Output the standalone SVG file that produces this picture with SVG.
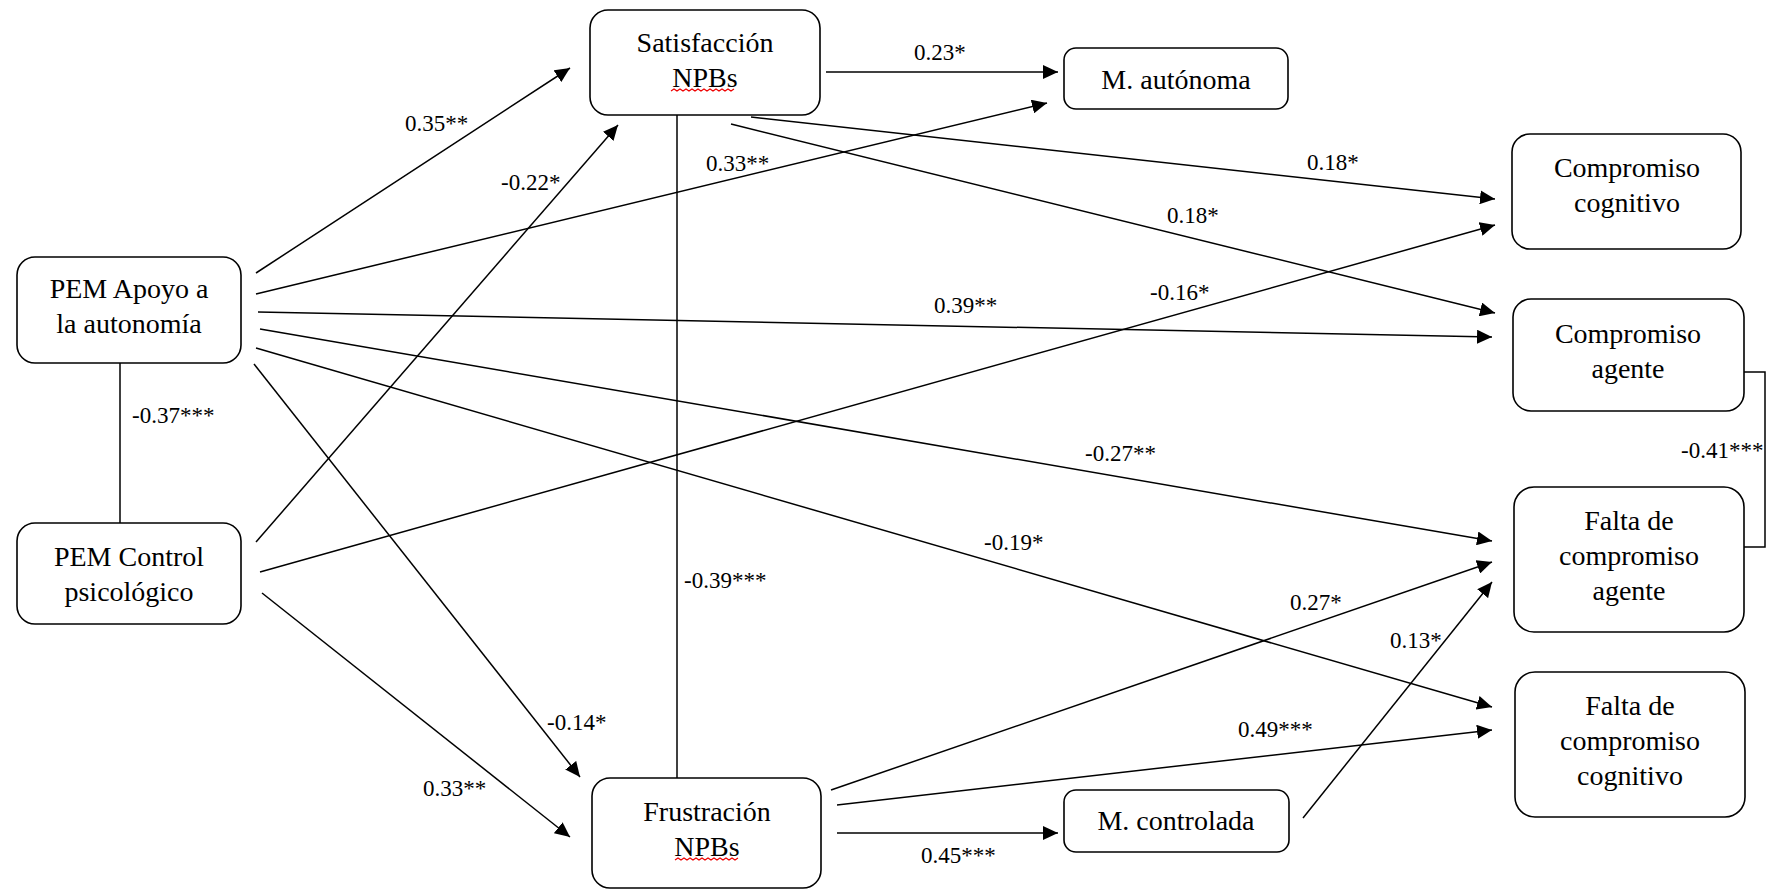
<svg xmlns="http://www.w3.org/2000/svg" width="1767" height="889" viewBox="0 0 1767 889">
<defs>
<marker id="ah" markerUnits="userSpaceOnUse" markerWidth="16" markerHeight="14" refX="15" refY="7" orient="auto" viewBox="0 0 16 14">
<path d="M0,0 L15,7 L0,14 z" fill="#000"/>
</marker>
</defs>
<style>
.box{fill:#fff;stroke:#000;stroke-width:1.6}
.nt{font-family:"Times New Roman","Liberation Serif","DejaVu Serif",Times,serif;font-size:28px;fill:#000;text-anchor:middle}
.lb{font-family:"Times New Roman","Liberation Serif","DejaVu Serif",Times,serif;font-size:23px;fill:#000}
.ar{stroke:#000;stroke-width:1.5;fill:none;marker-end:url(#ah)}
.ln{stroke:#000;stroke-width:1.5;fill:none}
.sp{stroke:#e00;stroke-width:1.2;fill:none}
</style>
<rect width="1767" height="889" fill="#fff"/>
<g id="connectors">
<line class="ar" x1="256" y1="273" x2="570" y2="68"/>
<line class="ar" x1="256" y1="294" x2="1047" y2="103"/>
<line class="ar" x1="258" y1="312" x2="1492" y2="337"/>
<line class="ar" x1="260" y1="329" x2="1492" y2="541"/>
<line class="ar" x1="256" y1="348" x2="1492" y2="707"/>
<line class="ar" x1="254" y1="364" x2="580" y2="777"/>
<line class="ar" x1="256" y1="542" x2="618" y2="125"/>
<line class="ar" x1="260" y1="572" x2="1495" y2="225"/>
<line class="ar" x1="262" y1="593" x2="570" y2="837"/>
<line class="ar" x1="826" y1="72" x2="1058" y2="72"/>
<line class="ar" x1="751" y1="117" x2="1495" y2="199"/>
<line class="ar" x1="731" y1="124" x2="1495" y2="313"/>
<line class="ar" x1="831" y1="790" x2="1492" y2="562"/>
<line class="ar" x1="837" y1="805" x2="1492" y2="730"/>
<line class="ar" x1="837" y1="833" x2="1058" y2="833"/>
<line class="ar" x1="1303" y1="818" x2="1492" y2="582"/>
<line class="ln" x1="120" y1="363" x2="120" y2="523"/>
<line class="ln" x1="677" y1="115" x2="677" y2="778"/>
<polyline class="ln" points="1744,372 1765,372 1765,547 1744,547"/>
<g id="labels">
<text class="lb" x="405" y="131">0.35**</text>
<text class="lb" x="501" y="190">-0.22*</text>
<text class="lb" x="706" y="171">0.33**</text>
<text class="lb" x="914" y="60">0.23*</text>
<text class="lb" x="1307" y="170">0.18*</text>
<text class="lb" x="1167" y="223">0.18*</text>
<text class="lb" x="1150" y="300">-0.16*</text>
<text class="lb" x="934" y="313">0.39**</text>
<text class="lb" x="1085" y="461">-0.27**</text>
<text class="lb" x="984" y="550">-0.19*</text>
<text class="lb" x="684" y="588">-0.39***</text>
<text class="lb" x="132" y="423">-0.37***</text>
<text class="lb" x="1681" y="458">-0.41***</text>
<text class="lb" x="1290" y="610">0.27*</text>
<text class="lb" x="1390" y="648">0.13*</text>
<text class="lb" x="1238" y="737">0.49***</text>
<text class="lb" x="547" y="730">-0.14*</text>
<text class="lb" x="423" y="796">0.33**</text>
<text class="lb" x="921" y="863">0.45***</text>
</g>
</g>
<g id="apoyo">
<rect class="box" x="17" y="257" width="224" height="106" rx="18"/>
<text class="nt" x="129" y="298">PEM Apoyo a</text>
<text class="nt" x="129" y="333">la autonomía</text>
</g>
<g id="control">
<rect class="box" x="17" y="523" width="224" height="101" rx="18"/>
<text class="nt" x="129" y="566">PEM Control</text>
<text class="nt" x="129" y="601">psicológico</text>
</g>
<g id="satisfaccion">
<rect class="box" x="590" y="10" width="230" height="105" rx="18"/>
<text class="nt" x="705" y="52">Satisfacción</text>
<text class="nt" x="705" y="87">NPBs</text>
<path class="sp" d="M671,91 l3,-2 l3,2 l3,-2 l3,2 l3,-2 l3,2 l3,-2 l3,2 l3,-2 l3,2 l3,-2 l3,2 l3,-2 l3,2 l3,-2 l3,2 l3,-2 l3,2 l3,-2 l3,2 l3,-2"/>
</g>
<g id="frustracion">
<rect class="box" x="592" y="778" width="229" height="110" rx="18"/>
<text class="nt" x="707" y="821">Frustración</text>
<text class="nt" x="707" y="856">NPBs</text>
<path class="sp" d="M675,860 l3,-2 l3,2 l3,-2 l3,2 l3,-2 l3,2 l3,-2 l3,2 l3,-2 l3,2 l3,-2 l3,2 l3,-2 l3,2 l3,-2 l3,2 l3,-2 l3,2 l3,-2 l3,2 l3,-2"/>
</g>
<g id="m-autonoma">
<rect class="box" x="1064" y="48" width="224" height="61" rx="12"/>
<text class="nt" x="1176" y="89">M. autónoma</text>
</g>
<g id="m-controlada">
<rect class="box" x="1064" y="790" width="225" height="62" rx="12"/>
<text class="nt" x="1176" y="830">M. controlada</text>
</g>
<g id="comp-cognitivo">
<rect class="box" x="1512" y="134" width="229" height="115" rx="18"/>
<text class="nt" x="1627" y="177">Compromiso</text>
<text class="nt" x="1627" y="212">cognitivo</text>
</g>
<g id="comp-agente">
<rect class="box" x="1513" y="299" width="231" height="112" rx="18"/>
<text class="nt" x="1628" y="343">Compromiso</text>
<text class="nt" x="1628" y="378">agente</text>
</g>
<g id="falta-agente">
<rect class="box" x="1514" y="487" width="230" height="145" rx="20"/>
<text class="nt" x="1629" y="530">Falta de</text>
<text class="nt" x="1629" y="565">compromiso</text>
<text class="nt" x="1629" y="600">agente</text>
</g>
<g id="falta-cognitivo">
<rect class="box" x="1515" y="672" width="230" height="145" rx="20"/>
<text class="nt" x="1630" y="715">Falta de</text>
<text class="nt" x="1630" y="750">compromiso</text>
<text class="nt" x="1630" y="785">cognitivo</text>
</g>
</svg>
